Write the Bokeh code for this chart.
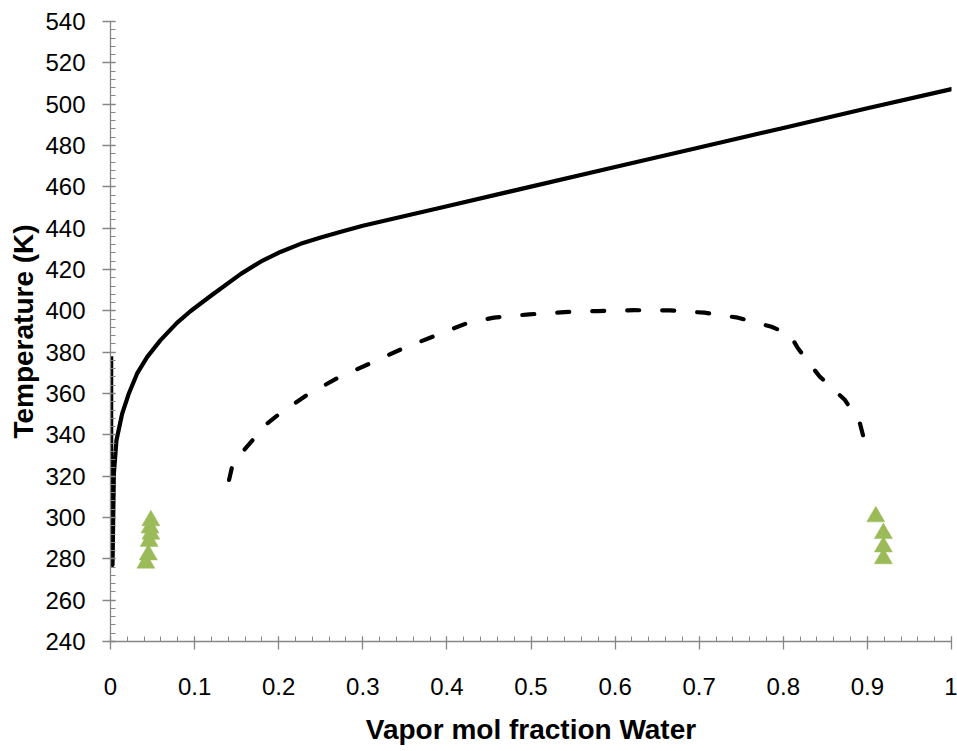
from bokeh.plotting import figure
from bokeh.models import Range1d, FixedTicker
from bokeh.embed import file_html
from bokeh.resources import INLINE

# ---- data ----
vap_x = [0.0024, 0.004, 0.0071, 0.0139, 0.0218, 0.0317, 0.0437, 0.0595, 0.079, 0.095,
         0.119, 0.155, 0.179, 0.202, 0.226, 0.25, 0.274, 0.3, 0.4, 0.5, 0.6, 0.7, 0.8, 0.9, 1.0]
vap_T = [277.0, 321.2, 337.4, 350.3, 360.0, 369.7, 377.7, 385.8, 394.2, 399.8,
         407.2, 417.9, 423.9, 428.5, 432.4, 435.5, 438.3, 441.2, 450.6, 460.1, 469.6, 479.0,
         488.5, 498.0, 507.3]

liq_x = [0.0015, 0.0015]
liq_T = [378.0, 277.0]

dash_x = [0.141, 0.145, 0.159, 0.171, 0.187, 0.202, 0.234, 0.27, 0.31, 0.345, 0.385, 0.425,
          0.456, 0.498, 0.54, 0.579, 0.623, 0.665, 0.706, 0.746, 0.786, 0.808, 0.817, 0.843,
          0.873, 0.891, 0.896]
dash_T = [318.2, 325.4, 332.7, 338.4, 345.7, 350.5, 359.4, 367.5, 374.8, 381.3, 387.8, 394.2,
          396.7, 398.3, 399.4, 399.9, 400.3, 400.2, 399.1, 396.7, 392.3, 388.5, 382.1, 368.3,
          357.0, 345.7, 337.9]

exp_x = [0.048, 0.047, 0.048, 0.046, 0.045, 0.042, 0.910, 0.919, 0.919, 0.919]
exp_T = [298.5, 295.0, 292.0, 288.5, 282.0, 278.0, 300.4, 292.3, 285.8, 280.1]

x_ticks = [0, 0.1, 0.2, 0.3, 0.4, 0.5, 0.6, 0.7, 0.8, 0.9, 1.0]
x_labels = ["0", "0.1", "0.2", "0.3", "0.4", "0.5", "0.6", "0.7", "0.8", "0.9", "1"]
y_ticks = list(range(240, 541, 20))
x_minor = [i / 50 for i in range(0, 51)]
y_minor = list(range(240, 541, 4))

# ---- figure ----
p = figure(width=957, height=751, output_backend="svg", toolbar_location=None,
           x_range=Range1d(0, 1), y_range=Range1d(240, 540),
           min_border_left=110, min_border_right=6, min_border_top=21, min_border_bottom=110)
p.outline_line_color = None
p.xgrid.visible = False
p.ygrid.visible = False
p.background_fill_color = "white"

p.line(liq_x, liq_T, line_color="black", line_width=3)
p.line(vap_x, vap_T, line_color="black", line_width=4.2, line_join="round", line_cap="round")
p.line(dash_x, dash_T, line_color="black", line_width=4.2, line_dash="12 23",
       line_cap="round", line_join="round")
p.scatter(exp_x, exp_T, marker="triangle", size=18, fill_color="#9BBB59",
          line_color="#9BBB59", line_width=0.5)

for ax in (p.xaxis[0], p.yaxis[0]):
    ax.axis_line_color = "#868686"
    ax.axis_line_width = 1.3
    ax.major_tick_line_color = "#868686"
    ax.minor_tick_line_color = "#868686"
    ax.major_tick_line_width = 1.3
    ax.minor_tick_line_width = 1.0
    ax.major_tick_in = 5
    ax.major_tick_out = 8
    ax.minor_tick_in = 5
    ax.minor_tick_out = 0
    ax.major_label_text_font = "Liberation Sans"
    ax.major_label_text_font_size = "24px"
    ax.major_label_text_color = "black"
    ax.axis_label_text_font = "Liberation Sans"
    ax.axis_label_text_font_style = "bold"
    ax.axis_label_text_font_size = "28px"
    ax.axis_label_text_color = "black"

p.xaxis[0].ticker = FixedTicker(ticks=x_ticks, minor_ticks=x_minor)
p.xaxis[0].major_label_overrides = {t: l for t, l in zip(x_ticks, x_labels)}
p.xaxis[0].major_label_standoff = 28
p.xaxis[0].axis_label = "Vapor mol fraction Water"
p.xaxis[0].axis_label_standoff = 16

p.yaxis[0].ticker = FixedTicker(ticks=y_ticks, minor_ticks=y_minor)
p.yaxis[0].major_label_standoff = 17
p.yaxis[0].axis_label = "Temperature (K)"
p.yaxis[0].axis_label_standoff = 3

open("out.html", "w").write(file_html(p, INLINE))
